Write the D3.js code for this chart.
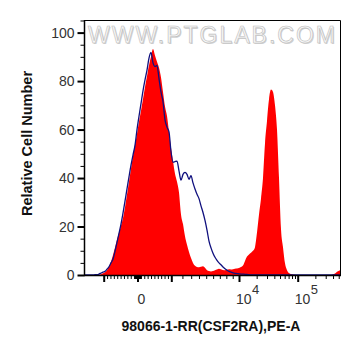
<!DOCTYPE html>
<html><head><meta charset="utf-8">
<script src="https://cdn.jsdelivr.net/npm/d3@7"></script>
<style>body{margin:0;background:#fff}svg{display:block}</style>
</head><body>
<svg id="c" width="361" height="356"></svg>
<script>
// Histogram bins in display-channel units (0..256), evenly spaced
const channelStart = 0, channelStep = 2;
const redCounts = [
0,0,0,0,0,0,0,0.1,0.3,0.7,
1.1,2,3.5,5.6,8.3,11.3,14.6,17.5,20.3,23.5,
28,33.2,38.5,43.8,49.2,53.8,58.2,63.2,67.8,72.6,
77.6,82,86.5,90,93.2,90.6,88,85.5,81.5,75.5,
69.5,65.6,59,52.5,47,41.8,38.5,34,25,21,
16,12.5,9.5,7,5,3.8,3.3,3.2,3.4,3.6,
3,2,1.6,1.4,1.6,2,2.3,2.6,2.4,2.1,
2,2.2,2.4,2.3,2.4,2.6,2.7,2.9,3.3,3.9,
5.8,7.6,8.5,9.2,10,11.5,17.5,25,31.5,40,
54.3,63.5,72.5,76.5,75.5,70,60,40,19,11.5,
4.8,2,0.8,0.4,0.2,0.1,0,0,0,0,
0,0,0,0,0,0,0,0,0,0,
0,0,0,0,0.3,0.6,1.3,1.8,2.2
];
const blueCounts = [
0,0,0,0,0.05,0.1,0.15,0.4,0.8,1.2,
1.5,2.4,3.4,5,6.6,9.8,13.5,17.2,21,25.5,
30.5,35.5,40.5,45.3,49.5,53.5,60,65.5,70.7,76,
80.5,84.5,89.5,91.8,87.5,86,86.5,81,75.5,71.5,
64,61,59,51,46.5,46.8,47,43,39.1,41.5,
42.3,41.5,39.5,41,38,35.5,33.3,31.5,28.5,25.8,
22.5,18.5,14,11.2,9,7.3,6,5,4.2,3.3,
2.6,2,1.5,1.2,0.9,0.7,0.6,0.5,0.4,0.35,
0.3,0.2,0.1,0,0,0,0,0,0,0,
0,0,0,0,0,0,0,0,0,0,
0,0,0,0,0,0,0,0,0,0,
0,0,0,0,0,0,0,0,0,0,
0,0,0,0,0,0,0,0,0
];
const yMajorTicks = [0,20,40,60,80,100];
const yMinorTicks = [5,10,15,25,30,35,45,50,55,65,70,75,85,90,95,105];
const xMajorValues = [-1000, 0, 1000, 10000, 100000];
const xMinorValues = [
 -900,-800,-700,-600,-500,-400,-300,-200,-100,
 -90,-80,-70,-60,-50,-40,-30,-20,-10,10,20,30,40,50,60,70,80,90,
 100,200,300,400,500,600,700,800,900,
 2000,3000,4000,5000,6000,7000,8000,9000,
 20000,30000,40000,50000,60000,70000,80000,90000,
 200000,300000,400000,500000
];
const xLabelValues = [0, 10000, 100000];
const xLabelBase = ["0", "10", "10"];
const xLabelExp = ["", "4", "5"];
const xTitle = "98066-1-RR(CSF2RA),PE-A";
const yTitle = "Relative Cell Number";
const watermark = "WWW.PTGLAB.COM";

// biexponential-like display transform: value -> channel
function toChannel(v){
  if (v <= 1000) return 52.5 + v*0.0338;
  if (v <= 10000){
    const f = 0.72*(v-1000)/9000 + 0.28*Math.log10(v/1000);
    return 86.3 + 67.7*f;
  }
  return 154 + 58.7*Math.log10(v/10000);
}

const svg = d3.select("#c");
const x = d3.scaleLinear().domain([0,256]).range([85,341]);
const y = d3.scaleLinear().domain([0,105.2]).range([275,20]);
const font = "'Liberation Sans', Arial, sans-serif";

// watermark (embossed look)
svg.append("text").attr("x",89).attr("y",44)
  .attr("font-family",font).attr("font-size",23)
  .attr("textLength",247).attr("lengthAdjust","spacing")
  .attr("fill","#d0d0d0")
  .text(watermark);
svg.append("text").attr("x",88).attr("y",43)
  .attr("font-family",font).attr("font-size",23)
  .attr("textLength",247).attr("lengthAdjust","spacing")
  .attr("fill","#f6f6f6").attr("stroke","#bdbdbd").attr("stroke-width",0.6)
  .text(watermark);

const chan = i => channelStart + i*channelStep;
// red filled histogram
svg.append("path").datum(redCounts)
  .attr("d", d3.area().x((d,i)=>x(chan(i))).y0(y(0)).y1(d=>y(d)).curve(d3.curveMonotoneX))
  .attr("fill","#ff0000");
// navy line histogram
svg.append("path").datum(blueCounts)
  .attr("d", d3.line().x((d,i)=>x(chan(i))).y(d=>y(d)).curve(d3.curveMonotoneX))
  .attr("fill","none").attr("stroke","#10107e").attr("stroke-width",1.3);

// frame top/right
svg.append("path").attr("d",`M84.5,20.5H340.5V275`).attr("fill","none").attr("stroke","#000").attr("stroke-width",1);

// Y axis
const gy = svg.append("g").attr("transform","translate(84.5,0)");
gy.call(d3.axisLeft(y).tickValues(yMajorTicks).tickSize(7).tickPadding(3).tickFormat(d3.format("d")));
gy.selectAll(".tick line").attr("stroke-width",2);
gy.select(".domain").attr("stroke-width",1.5).attr("d","M0,20V275.5");
gy.selectAll(".tick text").attr("font-family",font).attr("font-size",14).attr("fill","#333");
const gym = svg.append("g").attr("transform","translate(84.5,0)");
gym.call(d3.axisLeft(y).tickValues(yMinorTicks).tickSize(4).tickFormat(""));
gym.select(".domain").remove();
gym.selectAll(".tick line").attr("stroke-width",1);

// X axis
const gx = svg.append("g").attr("transform","translate(0,275.5)");
gx.call(d3.axisBottom(x).tickValues(xMajorValues.map(toChannel)).tickSize(6.5).tickFormat(""));
gx.selectAll(".tick line").attr("stroke-width",2);
gx.select(".domain").attr("stroke-width",1.5).attr("d","M84,0H341");
const gxm = svg.append("g").attr("transform","translate(0,275.5)");
gxm.call(d3.axisBottom(x).tickValues(xMinorValues.map(toChannel).filter(c=>c<=256)).tickSize(3.5).tickFormat(""));
gxm.select(".domain").remove();
gxm.selectAll(".tick line").attr("stroke-width",1);

// X labels
xLabelValues.forEach((v,i)=>{
  const px = x(toChannel(v));
  const t = svg.append("text").attr("font-family",font).attr("font-size",14).attr("fill","#333")
    .attr("y",303.5);
  if (xLabelExp[i] === ""){
    t.attr("x",px+4).attr("text-anchor","middle").text(xLabelBase[i]);
  } else {
    t.attr("x",px-3).attr("text-anchor","start");
    t.append("tspan").text(xLabelBase[i]);
    t.append("tspan").attr("font-size",13).attr("dy",-10).attr("dx",0.5).text(xLabelExp[i]);
  }
});

// titles
svg.append("text").attr("x",211).attr("y",331).attr("text-anchor","middle")
  .attr("font-family",font).attr("font-size",14).attr("font-weight","bold").attr("fill","#111")
  .text(xTitle);
svg.append("text").attr("transform","translate(32,143.5) rotate(-90)").attr("text-anchor","middle")
  .attr("font-family",font).attr("font-size",14.5).attr("font-weight","bold").attr("fill","#111")
  .text(yTitle);
</script>
</body></html>
